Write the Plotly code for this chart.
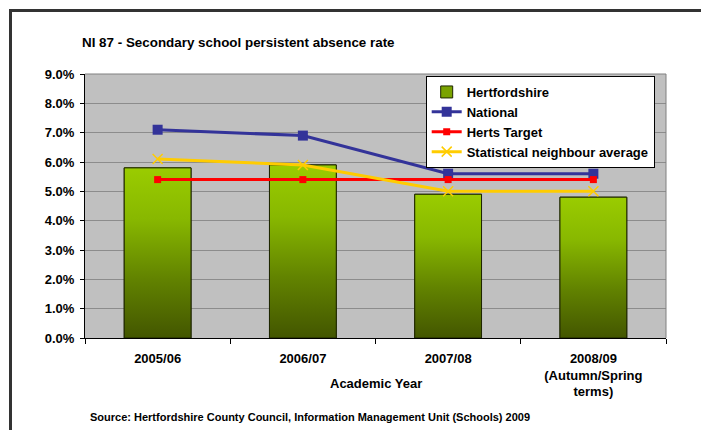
import plotly.graph_objects as go

categories = ["2005/06", "2006/07", "2007/08", "2008/09<br>(Autumn/Spring<br>terms)"]
hertfordshire = [5.8, 5.9, 4.9, 4.8]
national = [7.1, 6.9, 5.6, 5.6]
herts_target = [5.4, 5.4, 5.4, 5.4]
stat_neighbour = [6.1, 5.9, 5.0, 5.0]
y_ticks = [0, 1, 2, 3, 4, 5, 6, 7, 8, 9]

FONT = "Liberation Sans, Arial, sans-serif"
W, H = 701, 430
ML, MR, MT, MB = 85, 35, 74, 92
PW = W - ML - MR
PH = H - MT - MB


def px(xpix):
    return (xpix - ML) / PW


def py(ypix):
    return (H - MB - ypix) / PH


xs = list(range(len(categories)))
bar_w = 0.46
hw = bar_w / 2

fig = go.Figure()

fig.add_trace(go.Bar(
    x=xs, y=hertfordshire, width=bar_w, name="Hertfordshire",
    marker=dict(color="#7aa300", line=dict(color="#1e2600", width=1)),
))

# gradient overlay for each bar, derived from the data values
for i, v in zip(xs, hertfordshire):
    fig.add_trace(go.Scatter(
        x=[i - hw, i - hw, i + hw, i + hw, i - hw],
        y=[0, v, v, 0, 0],
        mode="lines", fill="toself",
        line=dict(color="#1e2600", width=1),
        fillgradient=dict(type="vertical",
                          colorscale=[[0, "#435600"], [0.35, "#628300"],
                                      [0.7, "#88b800"], [1, "#9acc00"]]),
        showlegend=False, hoverinfo="skip",
    ))

fig.add_trace(go.Scatter(
    x=xs, y=national, name="National", mode="lines+markers",
    line=dict(color="#333399", width=3),
    marker=dict(symbol="square", size=10, color="#333399"),
))
fig.add_trace(go.Scatter(
    x=xs, y=herts_target, name="Herts Target", mode="lines+markers",
    line=dict(color="#ff0000", width=3),
    marker=dict(symbol="square", size=7, color="#ff0000"),
))
fig.add_trace(go.Scatter(
    x=xs, y=stat_neighbour, name="Statistical neighbour average", mode="lines+markers",
    line=dict(color="#ffcc00", width=3),
    marker=dict(symbol="x-thin", size=10, color="#ffcc00",
                line=dict(color="#ffcc00", width=1.5)),
))

fig.update_layout(
    width=W, height=H,
    margin=dict(l=ML, r=MR, t=MT, b=MB, autoexpand=False),
    paper_bgcolor="white",
    plot_bgcolor="#c0c0c0",
    font=dict(family=FONT, size=13, color="black", weight="bold"),
    showlegend=True,
    legend=dict(
        x=px(425.7), y=py(76), xanchor="left", yanchor="top",
        bgcolor="white", bordercolor="black", borderwidth=1,
        font=dict(family=FONT, size=13, color="black", weight="bold"),
        traceorder="normal",
        tracegroupgap=0,
        entrywidth=195,
    ),
    xaxis=dict(
        range=[-0.5, len(categories) - 0.5],
        tickmode="array", tickvals=xs, ticktext=categories,
        ticks="", showgrid=False, zeroline=False,
        showline=True, linecolor="black", linewidth=1,
        tickfont=dict(family=FONT, size=13, color="black", weight="bold"),
        minor=dict(tickmode="linear", tick0=0.5, dtick=1, ticks="outside",
                   ticklen=5, tickcolor="black", tickwidth=1, showgrid=False),
        ticklabelstandoff=8,
    ),
    yaxis=dict(
        range=[0, 9], tickmode="array", tickvals=y_ticks,
        ticktext=[f"{v:.1f}%" for v in y_ticks],
        ticks="outside", ticklen=4, tickcolor="black",
        showgrid=True, gridcolor="#8c8c8c", gridwidth=1,
        zeroline=False, showline=True, linecolor="black", linewidth=1,
        tickfont=dict(family=FONT, size=13, color="black", weight="bold"),
        ticklabelstandoff=3,
    ),
    bargap=0.54,
    annotations=[
        dict(text="NI 87 - Secondary school persistent absence rate",
             xref="paper", yref="paper", x=px(80), y=py(42.7),
             xanchor="left", yanchor="middle", showarrow=False,
             font=dict(family=FONT, size=13.4, color="black", weight="bold")),
        dict(text="Academic Year",
             xref="paper", yref="paper", x=0.5, y=py(383),
             xanchor="center", yanchor="middle", showarrow=False,
             font=dict(family=FONT, size=13, color="black", weight="bold")),
        dict(text="Source: Hertfordshire County Council, Information Management Unit (Schools) 2009",
             xref="paper", yref="paper", x=px(87.5), y=py(416.7),
             xanchor="left", yanchor="middle", showarrow=False,
             font=dict(family=FONT, size=11, color="black", weight="bold")),
    ],
    shapes=[
        dict(type="path", xref="paper", yref="paper",
             path=f"M {px(10.5)},{py(440)} L {px(10.5)},{py(10.5)} L {px(710)},{py(10.5)}",
             line=dict(color="#333333", width=3), layer="above"),
        dict(type="path", xref="paper", yref="paper",
             path="M 0,1 L 1,1 L 1,0",
             line=dict(color="#808080", width=1), layer="above"),
    ],
)

fig.write_html("out.html")
